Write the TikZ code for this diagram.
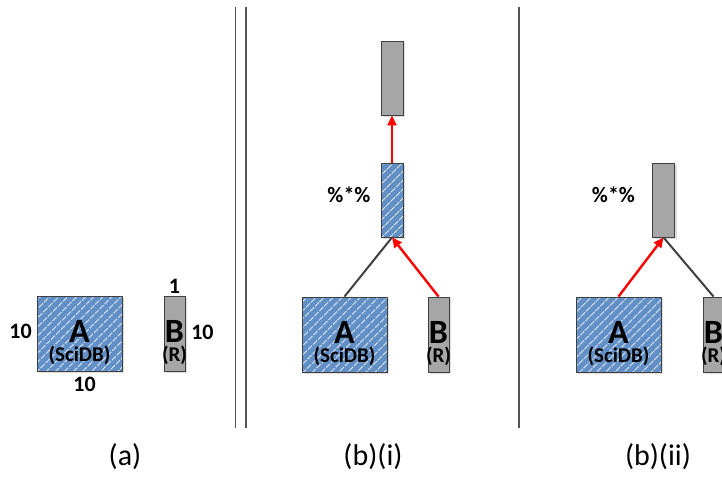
\documentclass[tikz,border=0pt]{standalone}
\usepackage{fontspec}
\setmainfont{Carlito}
\usepackage{tikz}
\usetikzlibrary{arrows.meta, positioning, patterns.meta, shadows}
\definecolor{hatchblue}{RGB}{98,144,198}
\definecolor{boxgray}{RGB}{166,166,166}
\definecolor{edgegray}{RGB}{64,64,64}

\begin{document}
\begin{tikzpicture}[x=1pt,y=-1pt,on grid,
    arr/.style={draw=edgegray, line width=0.9pt, inner sep=0pt, minimum width=85pt, minimum height=75pt,
        drop shadow={opacity=0.25, shadow xshift=2pt, shadow yshift=-2pt}},
    sci/.style={arr, preaction={fill=hatchblue}, pattern={Lines[angle=45,distance=6.5pt,line width=0.9pt]}, pattern color=white!85!hatchblue},
    rcol/.style={arr, fill=boxgray, minimum width=21pt},
    tall/.style={minimum width=22pt, minimum height=74pt},
    big/.style={font=\fontsize{34}{34}\selectfont\bfseries, inner sep=0pt, anchor=base},
    sub/.style={font=\fontsize{21}{21}\selectfont\bfseries, inner sep=0pt, anchor=base},
    dim/.style={font=\fontsize{22}{22}\selectfont\bfseries, inner sep=0pt, anchor=center},
    panel/.style={font=\fontsize{30}{30}\selectfont, inner sep=0pt, anchor=base},
    sepline/.style={draw=edgegray!90, line width=1.2pt},
    flow/.style={draw=red, line width=2.4pt, -{Triangle[length=10pt,width=9pt]}},
    link/.style={draw=edgegray, line width=2pt}]
    \fill[white] (0,0) rectangle (722,480);
    \useasboundingbox (0,0) rectangle (722,480);

    % (a)
    \node[sci]            (A_a)   at (79.5,333.5)                    {};
    \node[rcol]           (B_a)   [right=95pt of A_a]                {};
    \node[big]   at ([yshift=-9pt]A_a.center)     {A};
    \node[sub]   at ([yshift=-28pt]A_a.center)    {(SciDB)};
    \node[big]   at ([yshift=-9pt]B_a.center)     {B};
    \node[sub]   at ([yshift=-28pt]B_a.center)    {(R)};
    \node[dim]   at ([xshift=-16pt,yshift=2pt]A_a.west)  {10};
    \node[dim]   at ([xshift=5pt,yshift=-13pt]A_a.south) {10};
    \node[dim]   at ([xshift=17pt,yshift=1pt]B_a.east)   {10};
    \node[dim]   at ([yshift=9pt]B_a.north)              {1};
    \node[panel] at (125,465)                     {(a)};

    % separators
    \coordinate (s1t) at (235.5,7);   \coordinate (s1b) at (235.5,428);
    \coordinate (s2t) at (246,7);     \coordinate (s2b) at (246,428);
    \coordinate (s3t) at (519,7);     \coordinate (s3b) at (519,428);
    \draw[sepline] (s1t) -- (s1b);
    \draw[sepline] (s2t) -- (s2b);
    \draw[sepline] (s3t) -- (s3b);

    % (b)(i)
    \node[sci]            (A_bi)  at (344.5,334.5)                   {};
    \node[rcol]           (B_bi)  [right=94pt of A_bi]               {};
    \node[sci, tall]      (M_bi)  [above right=134.5pt and 47.5pt of A_bi] {};
    \node[rcol, tall]     (T_bi)  [above=122pt of M_bi]              {};
    \node[big]   at ([yshift=-9pt]A_bi.center)    {A};
    \node[sub]   at ([yshift=-28pt]A_bi.center)   {(SciDB)};
    \node[big]   at ([yshift=-9pt]B_bi.center)    {B};
    \node[sub]   at ([yshift=-28pt]B_bi.center)   {(R)};
    \node[dim]   at ([xshift=-43pt,yshift=5pt]M_bi.center)  {\%*\%};
    \node[panel] at (373,465)                     {(b)(i)};
    \draw[link]  (A_bi.north) -- (M_bi.south);
    \draw[flow]  (B_bi.north) -- (M_bi.south);
    \draw[flow]  (M_bi.north) -- (T_bi.south);

    % (b)(ii)
    \node[sci]            (A_bii) at (618.5,334.5)                   {};
    \node[rcol]           (B_bii) [right=95pt of A_bii]              {};
    \node[rcol, tall]     (M_bii) [above right=134.5pt and 45pt of A_bii] {};
    \node[big]   at ([yshift=-9pt]A_bii.center)   {A};
    \node[sub]   at ([yshift=-28pt]A_bii.center)  {(SciDB)};
    \node[big]   at ([yshift=-9pt]B_bii.center)   {B};
    \node[sub]   at ([yshift=-28pt]B_bii.center)  {(R)};
    \node[dim]   at ([xshift=-50pt,yshift=5pt]M_bii.center) {\%*\%};
    \node[panel] at (658,465)                     {(b)(ii)};
    \draw[flow]  (A_bii.north) -- (M_bii.south);
    \draw[link]  (M_bii.south) -- (B_bii.north);
\end{tikzpicture}
\end{document}
